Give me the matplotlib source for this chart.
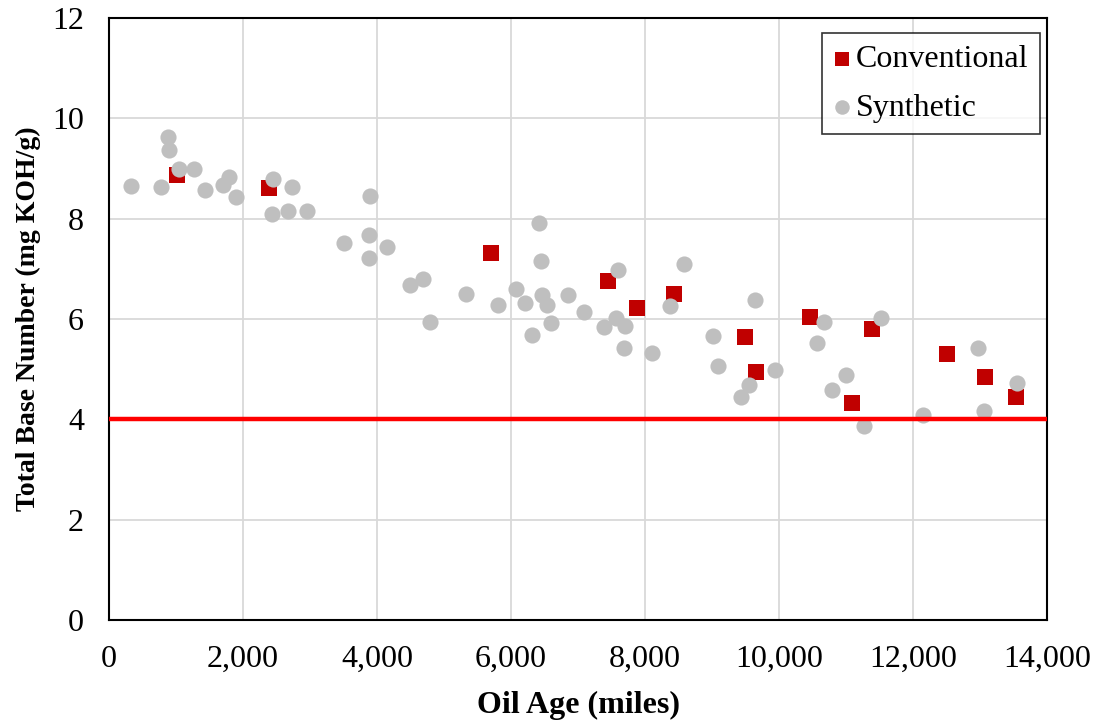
import matplotlib
matplotlib.use("Agg")
import matplotlib.pyplot as plt
from matplotlib.ticker import FuncFormatter

# Conventional oil samples (miles, TBN)
conv_miles = [1015, 2388, 5701, 7448, 7881, 8433, 9493, 9657, 10463, 11090, 11388, 12507, 13075, 13537]
conv_tbn = [8.88, 8.62, 7.31, 6.75, 6.21, 6.49, 5.65, 4.95, 6.05, 4.33, 5.81, 5.31, 4.85, 4.45]

# Synthetic oil samples
syn_miles = [328, 776, 880, 896, 1045, 1269, 1433, 1701, 1791, 1896,
             2448, 2731, 2433, 2672, 2955, 3507, 3896, 3881, 3881, 4149,
             4493, 4687, 4791, 5328, 5806, 6075, 6209, 6313, 6418, 6448,
             6463, 6537, 6597, 6851, 7090, 7388, 7567, 7597, 7701, 7687,
             8104, 8373, 8582, 9015, 9090, 9433, 9552, 9642, 9940, 10567,
             10672, 10791, 11000, 11269, 11522, 12149, 12970, 13060, 13552]
syn_tbn = [8.66, 8.64, 9.62, 9.36, 9.00, 9.00, 8.58, 8.68, 8.84, 8.44,
           8.80, 8.64, 8.10, 8.16, 8.16, 7.52, 8.46, 7.68, 7.21, 7.43,
           6.67, 6.79, 5.95, 6.49, 6.27, 6.59, 6.31, 5.69, 7.92, 7.15,
           6.47, 6.27, 5.93, 6.47, 6.15, 5.85, 6.03, 6.97, 5.87, 5.43,
           5.33, 6.25, 7.09, 5.67, 5.07, 4.45, 4.69, 6.37, 4.99, 5.53,
           5.95, 4.59, 4.89, 3.87, 6.03, 4.09, 5.43, 4.17, 4.73]

limit_tbn = 4

plt.rcParams['font.family'] = ['Liberation Serif', 'DejaVu Serif']

fig = plt.figure(figsize=(10.97, 7.23), dpi=100)
ax = fig.add_axes([0.0994, 0.1425, 0.855, 0.8325])

ax.scatter(conv_miles, conv_tbn, marker='s', s=120, color='#C00000', label='Conventional', zorder=3, linewidths=0)
ax.scatter(syn_miles, syn_tbn, marker='o', s=135, color='#BFBFBF', label='Synthetic', zorder=4, linewidths=0)
ax.axhline(limit_tbn, color='#FF0000', linewidth=3.2, zorder=5)

ax.set_xlim(0, 14000)
ax.set_ylim(0, 12)
ax.set_xticks(range(0, 14001, 2000))
ax.set_yticks(range(0, 13, 2))
ax.xaxis.set_major_formatter(FuncFormatter(lambda v, p: f"{int(v):,}"))
ax.grid(True, color='#D9D9D9', linewidth=1.3, zorder=0)
ax.set_axisbelow(True)
ax.tick_params(length=0, labelsize=23)
ax.tick_params(axis='x', pad=18)
ax.tick_params(axis='y', pad=18)
for sp in ax.spines.values():
    sp.set_color('black')
    sp.set_linewidth(1.5)

ax.set_xlabel('Oil Age (miles)', fontsize=23, fontweight='bold', labelpad=12)
ax.set_ylabel('Total Base Number (mg KOH/g)', fontsize=20, fontweight='bold', labelpad=8)

leg = ax.legend(loc='upper right', fontsize=23, frameon=True, fancybox=False,
                edgecolor='black', handletextpad=0.15, borderpad=0.36,
                handlelength=0.55, markerscale=0.9, labelspacing=0.6,
                borderaxespad=0, bbox_to_anchor=(0.9925, 0.975))
leg.get_frame().set_linewidth(1.2)

fig.savefig('out.png', dpi=100)
